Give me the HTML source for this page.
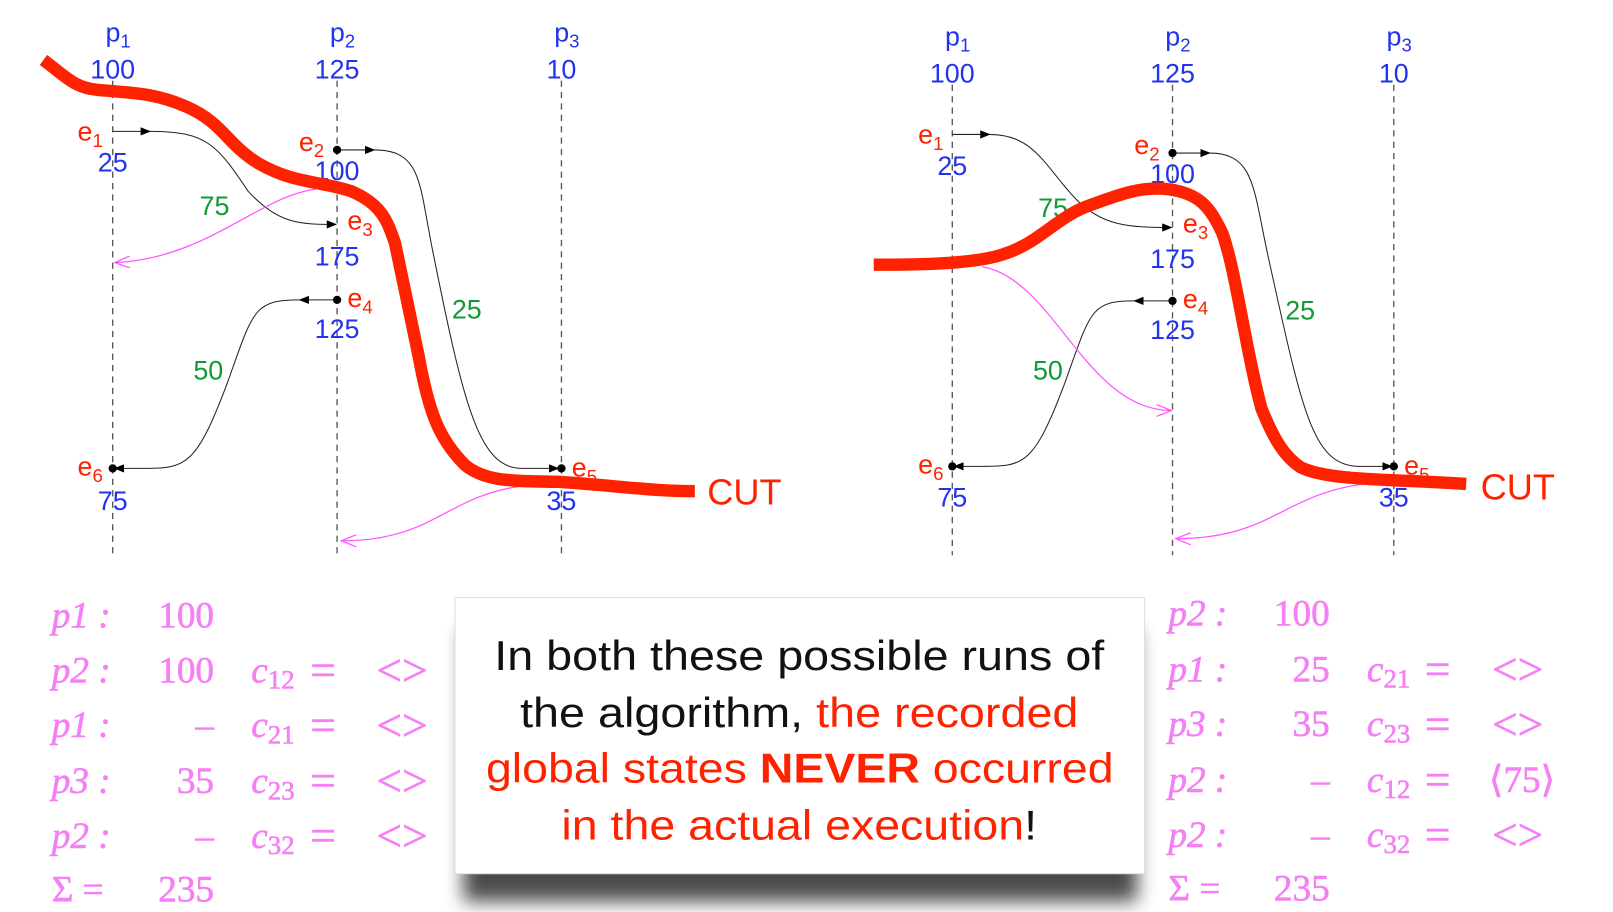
<!DOCTYPE html>
<html><head><meta charset="utf-8"><style>
html,body{margin:0;padding:0;background:#fff;width:1613px;height:912px;overflow:hidden}
svg{display:block}
.lab{font-family:"Liberation Sans",sans-serif;fill:#2233ee;font-size:26px}
.ev{font-family:"Liberation Sans",sans-serif;fill:#ff2200;font-size:26px}
.gr{font-family:"Liberation Sans",sans-serif;fill:#119933;font-size:26px}
.tb{font-family:"Liberation Serif",serif;fill:#f57ff5;font-size:36px;stroke:#f57ff5;stroke-width:0.6}
.tbi{font-family:"Liberation Serif",serif;font-style:italic;fill:#f57ff5;font-size:36px;stroke:#f57ff5;stroke-width:0.6}
.big{font-size:44px}
.msg{font-family:"Liberation Sans",sans-serif;font-size:40px}
</style></head><body>
<svg width="1613" height="912" viewBox="0 0 1560 882">
<defs>
<marker id="ah" markerWidth="10" markerHeight="8" refX="9" refY="4" orient="auto" markerUnits="userSpaceOnUse"><path d="M0,0 L10,4 L0,8 Z" fill="#000"/></marker>
<marker id="ph" markerWidth="16" markerHeight="12" refX="15" refY="6" orient="auto" markerUnits="userSpaceOnUse"><path d="M0,0 L15,6 L0,12" fill="none" stroke="#ff55ff" stroke-width="1.2"/></marker>
<filter id="sh" x="-10%" y="-10%" width="120%" height="140%"><feGaussianBlur stdDeviation="9"/></filter>
</defs>

<g>
<g stroke="#555" stroke-dasharray="6,5" stroke-width="1.3">
<line x1="109" y1="78" x2="109" y2="540"/>
<line x1="326" y1="78" x2="326" y2="540"/>
<line x1="543" y1="78" x2="543" y2="540"/>
</g>
<text class="lab" x="102" y="40">p<tspan font-size="18" dy="6">1</tspan></text>
<text class="lab" x="319" y="40">p<tspan font-size="18" dy="6">2</tspan></text>
<text class="lab" x="536" y="40">p<tspan font-size="18" dy="6">3</tspan></text>
<text class="lab" x="109" y="76" text-anchor="middle">100</text>
<text class="lab" x="326" y="76" text-anchor="middle">125</text>
<text class="lab" x="543" y="76" text-anchor="middle">10</text>
<g fill="none" stroke="#222" stroke-width="1">
<path d="M145,127 C200,127 210,140 240,185 C270,217 290,217 325,217" marker-end="url(#ah)"/>
<line x1="109" y1="127" x2="145" y2="127" marker-end="url(#ah)"/>
<line x1="326" y1="145" x2="362" y2="145" marker-end="url(#ah)"/>
<path d="M362,145 C410,145 405,180 420,250 C450,400 465,453 505,453 L540,453" marker-end="url(#ah)"/>
<line x1="326" y1="290" x2="290" y2="290" marker-end="url(#ah)"/>
<path d="M290,290 C245,290 245,300 220,370 C190,450 180,453 140,453 L111,453" marker-end="url(#ah)"/>
</g>
<circle cx="326" cy="145" r="4"/><circle cx="326" cy="290" r="4"/><circle cx="109" cy="453" r="4"/><circle cx="543" cy="453" r="4"/>
<path d="M305,183 C250,190 200,250 111,254" fill="none" stroke="#ff55ff" stroke-width="1.2" marker-end="url(#ph)"/>
<path d="M505,470 C430,480 420,523 330,523" fill="none" stroke="#ff55ff" stroke-width="1.2" marker-end="url(#ph)"/>
<text class="ev" x="75" y="136">e<tspan font-size="18" dy="6">1</tspan></text>
<text class="lab" x="109" y="166" text-anchor="middle">25</text>
<text class="ev" x="289" y="146">e<tspan font-size="18" dy="6">2</tspan></text>
<text class="lab" x="326" y="174" text-anchor="middle">100</text>
<text class="ev" x="336" y="222">e<tspan font-size="18" dy="6">3</tspan></text>
<text class="lab" x="326" y="257" text-anchor="middle">175</text>
<text class="ev" x="336" y="297">e<tspan font-size="18" dy="6">4</tspan></text>
<text class="lab" x="326" y="327" text-anchor="middle">125</text>
<text class="ev" x="75" y="460">e<tspan font-size="18" dy="6">6</tspan></text>
<text class="lab" x="109" y="493" text-anchor="middle">75</text>
<text class="ev" x="553" y="461">e<tspan font-size="18" dy="6">5</tspan></text>
<text class="lab" x="543" y="493" text-anchor="middle">35</text>
<text class="gr" x="193" y="208">75</text>
<text class="gr" x="437" y="308">25</text>
<text class="gr" x="187" y="367">50</text>
<path d="M42,58 C65,75 72,85 95,87 C130,90 150,90 180,103 C215,118 220,140 250,158 C285,178 310,175 340,185 C370,198 375,215 382,235 L405,345 C415,400 425,425 450,450 C470,466 495,465 540,466 C600,470 630,475 672,475" fill="none" stroke="#ff2200" stroke-width="12"/>
<text x="684" y="488" font-family="Liberation Sans,sans-serif" font-size="35" fill="#ff2200">CUT</text>
</g>

<g>
<g stroke="#555" stroke-dasharray="6,5" stroke-width="1.3">
<line x1="921" y1="82" x2="921" y2="537"/>
<line x1="1134" y1="82" x2="1134" y2="537"/>
<line x1="1348" y1="82" x2="1348" y2="537"/>
</g>
<text class="lab" x="914" y="44">p<tspan font-size="18" dy="6">1</tspan></text>
<text class="lab" x="1127" y="44">p<tspan font-size="18" dy="6">2</tspan></text>
<text class="lab" x="1341" y="44">p<tspan font-size="18" dy="6">3</tspan></text>
<text class="lab" x="921" y="80" text-anchor="middle">100</text>
<text class="lab" x="1134" y="80" text-anchor="middle">125</text>
<text class="lab" x="1348" y="80" text-anchor="middle">10</text>
<g fill="none" stroke="#222" stroke-width="1">
<line x1="921" y1="130" x2="957" y2="130" marker-end="url(#ah)"/>
<path d="M957,130 C1000,130 1010,160 1040,192 C1065,218 1090,220 1133,220" marker-end="url(#ah)"/>
<line x1="1134" y1="148" x2="1170" y2="148" marker-end="url(#ah)"/>
<path d="M1170,148 C1215,148 1212,185 1228,255 C1260,400 1270,451 1315,451 L1346,451" marker-end="url(#ah)"/>
<line x1="1134" y1="291" x2="1097" y2="291" marker-end="url(#ah)"/>
<path d="M1097,291 C1055,291 1055,300 1030,370 C1000,450 990,451 950,451 L923,451" marker-end="url(#ah)"/>
</g>
<circle cx="1134" cy="148" r="4"/><circle cx="1134" cy="291" r="4"/><circle cx="921" cy="451" r="4"/><circle cx="1348" cy="451" r="4"/>
<path d="M950,258 C1020,270 1050,397 1133,397" fill="none" stroke="#ff55ff" stroke-width="1.2" marker-end="url(#ph)"/>
<path d="M1320,468 C1240,478 1230,521 1137,521" fill="none" stroke="#ff55ff" stroke-width="1.2" marker-end="url(#ph)"/>
<text class="ev" x="888" y="139">e<tspan font-size="18" dy="6">1</tspan></text>
<text class="lab" x="921" y="169" text-anchor="middle">25</text>
<text class="ev" x="1097" y="149">e<tspan font-size="18" dy="6">2</tspan></text>
<text class="lab" x="1134" y="177" text-anchor="middle">100</text>
<text class="ev" x="1144" y="225">e<tspan font-size="18" dy="6">3</tspan></text>
<text class="lab" x="1134" y="259" text-anchor="middle">175</text>
<text class="ev" x="1144" y="298">e<tspan font-size="18" dy="6">4</tspan></text>
<text class="lab" x="1134" y="328" text-anchor="middle">125</text>
<text class="ev" x="888" y="458">e<tspan font-size="18" dy="6">6</tspan></text>
<text class="lab" x="921" y="490" text-anchor="middle">75</text>
<text class="ev" x="1358" y="459">e<tspan font-size="18" dy="6">5</tspan></text>
<text class="lab" x="1348" y="490" text-anchor="middle">35</text>
<text class="gr" x="1004" y="210">75</text>
<text class="gr" x="1243" y="309">25</text>
<text class="gr" x="999" y="367">50</text>
<path d="M845,256 C880,256 940,256 970,246 C1005,235 1020,212 1050,200 C1085,187 1105,180 1130,183 C1160,187 1170,200 1182,225 C1195,260 1205,340 1220,395 C1230,420 1240,440 1258,452 C1285,465 1340,463 1418,468" fill="none" stroke="#ff2200" stroke-width="12"/>
<text x="1432" y="483" font-family="Liberation Sans,sans-serif" font-size="35" fill="#ff2200">CUT</text>
</g>

<g>
<text class="tbi" x="50" y="607">p1 :</text><text class="tb" x="207" y="607" text-anchor="end">100</text>
<text class="tbi" x="50" y="660">p2 :</text><text class="tb" x="207" y="660" text-anchor="end">100</text>
<text class="tbi" x="243" y="660">c<tspan font-style="normal" font-size="26" dy="6">12</tspan></text><text class="tb big" x="300" y="663">=</text><text class="tb big" x="364" y="663">&lt;&gt;</text>
<text class="tbi" x="50" y="713">p1 :</text><text class="tb" x="207" y="713" text-anchor="end">–</text>
<text class="tbi" x="243" y="713">c<tspan font-style="normal" font-size="26" dy="6">21</tspan></text><text class="tb big" x="300" y="716">=</text><text class="tb big" x="364" y="716">&lt;&gt;</text>
<text class="tbi" x="50" y="767">p3 :</text><text class="tb" x="207" y="767" text-anchor="end">35</text>
<text class="tbi" x="243" y="767">c<tspan font-style="normal" font-size="26" dy="6">23</tspan></text><text class="tb big" x="300" y="770">=</text><text class="tb big" x="364" y="770">&lt;&gt;</text>
<text class="tbi" x="50" y="820">p2 :</text><text class="tb" x="207" y="820" text-anchor="end">–</text>
<text class="tbi" x="243" y="820">c<tspan font-style="normal" font-size="26" dy="6">32</tspan></text><text class="tb big" x="300" y="823">=</text><text class="tb big" x="364" y="823">&lt;&gt;</text>
<text class="tb" x="50" y="872">Σ =</text><text class="tb" x="207" y="872" text-anchor="end">235</text>
</g>

<g>
<text class="tbi" x="1130" y="605">p2 :</text><text class="tb" x="1286" y="605" text-anchor="end">100</text>
<text class="tbi" x="1130" y="659">p1 :</text><text class="tb" x="1286" y="659" text-anchor="end">25</text>
<text class="tbi" x="1322" y="659">c<tspan font-style="normal" font-size="26" dy="6">21</tspan></text><text class="tb big" x="1378" y="662">=</text><text class="tb big" x="1443" y="662">&lt;&gt;</text>
<text class="tbi" x="1130" y="712">p3 :</text><text class="tb" x="1286" y="712" text-anchor="end">35</text>
<text class="tbi" x="1322" y="712">c<tspan font-style="normal" font-size="26" dy="6">23</tspan></text><text class="tb big" x="1378" y="715">=</text><text class="tb big" x="1443" y="715">&lt;&gt;</text>
<text class="tbi" x="1130" y="766">p2 :</text><text class="tb" x="1286" y="766" text-anchor="end">–</text>
<text class="tbi" x="1322" y="766">c<tspan font-style="normal" font-size="26" dy="6">12</tspan></text><text class="tb big" x="1378" y="769">=</text><text class="tb" x="1440" y="766">⟨75⟩</text>
<text class="tbi" x="1130" y="819">p2 :</text><text class="tb" x="1286" y="819" text-anchor="end">–</text>
<text class="tbi" x="1322" y="819">c<tspan font-style="normal" font-size="26" dy="6">32</tspan></text><text class="tb big" x="1378" y="822">=</text><text class="tb big" x="1443" y="822">&lt;&gt;</text>
<text class="tb" x="1130" y="871">Σ =</text><text class="tb" x="1286" y="871" text-anchor="end">235</text>
</g>

<g>
<rect x="448" y="610" width="652" height="262" fill="#000" opacity="0.7" filter="url(#sh)"/>
<rect x="440" y="578" width="667" height="267" fill="#fff" stroke="#ddd" stroke-width="1"/>
<text class="msg" x="478" y="648" textLength="590" lengthAdjust="spacingAndGlyphs" fill="#111">In both these possible runs of</text>
<text class="msg" x="503" y="703" textLength="540" lengthAdjust="spacingAndGlyphs" fill="#111">the algorithm, <tspan fill="#ff2200">the recorded</tspan></text>
<text class="msg" x="470" y="757" textLength="607" lengthAdjust="spacingAndGlyphs" fill="#ff2200">global states <tspan font-weight="bold">NEVER</tspan> occurred</text>
<text class="msg" x="543" y="812" textLength="460" lengthAdjust="spacingAndGlyphs" fill="#ff2200">in the actual execution<tspan fill="#111">!</tspan></text>
</g>
</svg>
</body></html>
